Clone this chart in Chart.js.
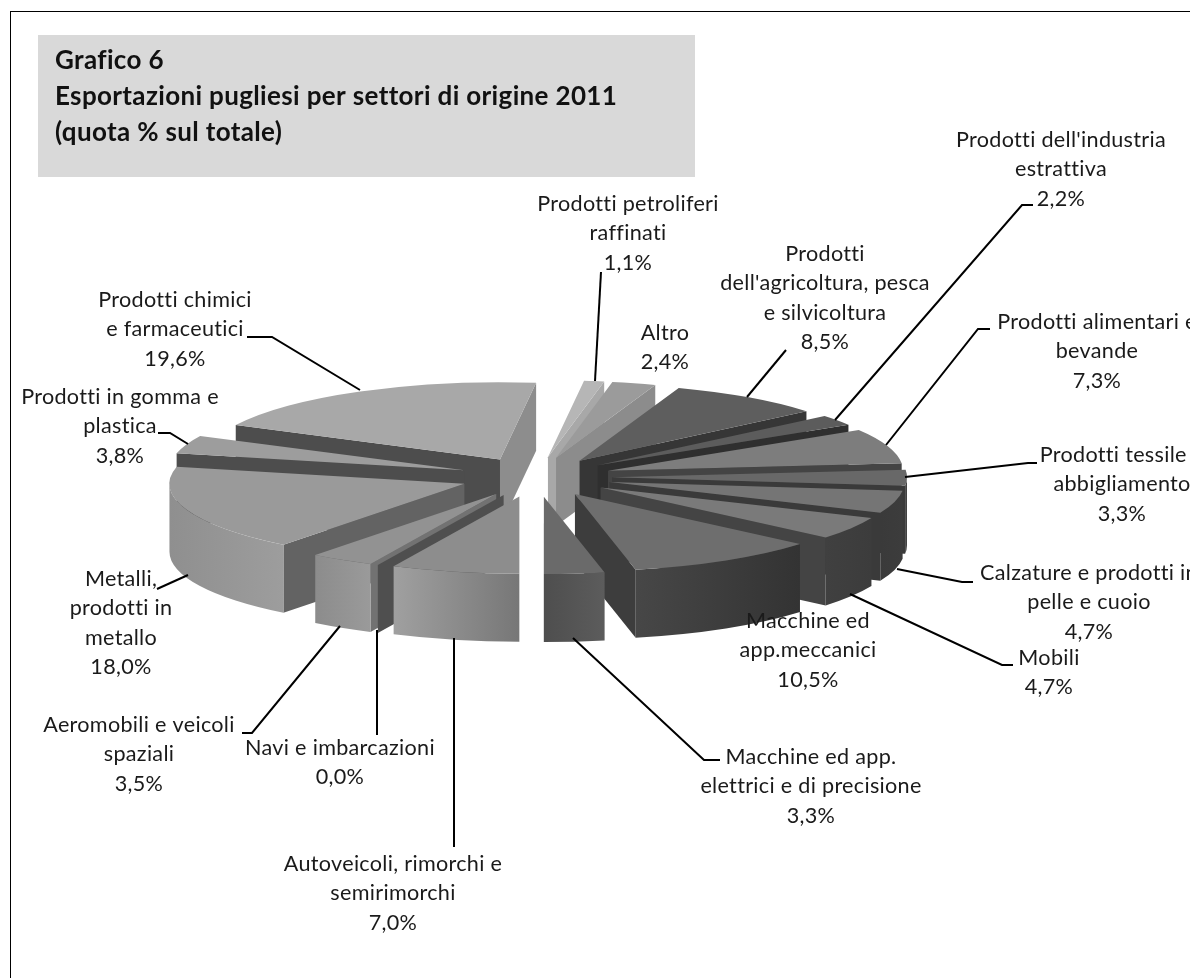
<!DOCTYPE html>
<html lang="it">
<head>
<meta charset="utf-8">
<title>Grafico 6</title>
<script src="https://cdn.jsdelivr.net/npm/chart.js@4"></script>
<style>
    html, body { margin: 0; padding: 0; background: #fff; overflow: hidden; }
    canvas { display: block; }
</style>
</head>
<body>
<canvas id="pie" width="1190" height="978"></canvas>
<script>
    const sectors = [
        'Altro', "Prodotti dell'agricoltura, pesca e silvicoltura", "Prodotti dell'industria estrattiva",
        'Prodotti alimentari e bevande', 'Prodotti tessile e abbigliamento', 'Calzature e prodotti in pelle e cuoio',
        'Mobili', 'Macchine ed app.meccanici', 'Macchine ed app. elettrici e di precisione',
        'Autoveicoli, rimorchi e semirimorchi', 'Navi e imbarcazioni', 'Aeromobili e veicoli spaziali',
        'Metalli, prodotti in metallo', 'Prodotti in gomma e plastica', 'Prodotti chimici e farmaceutici',
        'Prodotti petroliferi raffinati'
    ];
    const shares = [2.4, 8.5, 2.2, 7.3, 3.3, 4.7, 4.7, 10.5, 3.3, 7.0, 0.0, 3.5, 18.0, 3.8, 19.6, 1.1];

    // greys per slice: top face, two radial walls, outer rim left and right
    const topColors = ['#9b9b9b', '#5e5e5e', '#5c5c5c', '#7d7d7d', '#686868', '#757575', '#7a7a7a', '#6e6e6e',
        '#6a6a6a', '#8d8d8d', '#8d8d8d', '#929292', '#9a9a9a', '#9d9d9d', '#a8a8a8', '#b6b6b6'];
    const startWalls = ['#8c8c8c', '#363636', '#2f2f2f', '#444444', '#3a3a3a', '#3a3a3a', '#444444', '#3d3d3d',
        '#505050', '#707070', '#4f4f4f', '#727272', '#636363', '#4d4d4d', '#4d4d4d', '#a8a8a8'];
    const endWalls = ['#8c8c8c', '#363636', '#2f2f2f', '#444444', '#3a3a3a', '#3a3a3a', '#444444', '#3d3d3d',
        '#505050', '#707070', '#4f4f4f', '#727272', '#636363', '#4d4d4d', '#8d8d8d', '#a8a8a8'];
    const rimLeft = ['#888888', '#444444', '#444444', '#444444', '#3c3c3c', '#3a3a3a', '#404040', '#474747',
        '#4e4e4e', '#a0a0a0', '#707070', '#8c8c8c', '#8f8f8f', '#909090', '#909090', '#909090'];
    const rimRight = ['#888888', '#444444', '#444444', '#444444', '#444444', '#3c3c3c', '#3c3c3c', '#333333',
        '#5c5c5c', '#777777', '#707070', '#9a9a9a', '#9d9d9d', '#909090', '#909090', '#909090'];

    const titleLines = ['Grafico 6', 'Esportazioni pugliesi per settori di origine 2011', '(quota % sul totale)'];

    const labelLines = [
        ['Altro', '2,4%'],
        ['Prodotti', "dell'agricoltura, pesca", 'e silvicoltura', '8,5%'],
        ["Prodotti dell'industria", 'estrattiva', '2,2%'],
        ['Prodotti alimentari e', 'bevande', '7,3%'],
        ['Prodotti tessile e', 'abbigliamento', '3,3%'],
        ['Calzature e prodotti in', 'pelle e cuoio', '4,7%'],
        ['Mobili', '4,7%'],
        ['Macchine ed', 'app.meccanici', '10,5%'],
        ['Macchine ed app.', 'elettrici e di precisione', '3,3%'],
        ['Autoveicoli, rimorchi e', 'semirimorchi', '7,0%'],
        ['Navi e imbarcazioni', '0,0%'],
        ['Aeromobili e veicoli', 'spaziali', '3,5%'],
        ['Metalli,', 'prodotti in', 'metallo', '18,0%'],
        ['Prodotti in gomma e', 'plastica', '3,8%'],
        ['Prodotti chimici', 'e farmaceutici', '19,6%'],
        ['Prodotti petroliferi', 'raffinati', '1,1%']
    ];
    // centre x and y of the first line of each label
    const labelAnchors = [[665, 333], [825, 254], [1061, 140], [1097, 322], [1122, 455], [1089, 573], [1049, 658],
        [808, 621], [811, 757], [393, 864], [340, 748], [139, 725], [121, 579], [120, 397], [175, 300], [628, 204]];

    const leaders = [
        [[601, 272], [595, 381]],
        [[786, 350], [747, 397]],
        [[1033, 205], [1022, 205], [835, 420]],
        [[990, 329], [978, 329], [886, 445]],
        [[1037, 463], [1028, 463], [905, 477]],
        [[973, 582], [962, 582], [897, 569]],
        [[1013, 665], [1002, 665], [850, 594]],
        [[573, 638], [704, 760], [720, 760]],
        [[454, 638], [454, 847]],
        [[377, 630], [377, 735]],
        [[340, 626], [252, 733], [242, 733]],
        [[188, 575], [157, 589]],
        [[188, 444], [170, 433], [158, 433]],
        [[360, 390], [272, 337], [247, 337]]
    ];

    const tilt = 0.262;      // vertical squash of the pie disc
    const depth = 68;        // height of the extruded side
    const explode = 76;      // distance of each slice from the centre

    const TWO_PI = Math.PI * 2;

    const polygon = (ctx, pts, fill) => {
        ctx.beginPath();
        pts.forEach((p, i) => (i ? ctx.lineTo(p[0], p[1]) : ctx.moveTo(p[0], p[1])));
        ctx.closePath();
        ctx.fillStyle = fill;
        ctx.fill();
    };

    // radial wall between the slice tip and its outer corner at the given angle
    const drawWall = (ctx, tipX, tipY, radius, angle, fill) => {
        const cornerX = tipX + Math.cos(angle) * radius;
        const cornerY = tipY + Math.sin(angle) * radius * tilt;
        polygon(ctx, [[tipX, tipY], [cornerX, cornerY], [cornerX, cornerY + depth], [tipX, tipY + depth]], fill);
    };

    // front part of the cylinder side, only where the arc faces the viewer
    const drawRim = (ctx, tipX, tipY, radius, start, end, index) => {
        for (let k = -1; k <= 1; k++) {
            const from = Math.max(start, k * TWO_PI);
            const to = Math.min(end, k * TWO_PI + Math.PI);
            if (to <= from) continue;
            const xa = tipX + Math.cos(from) * radius;
            const xb = tipX + Math.cos(to) * radius;
            const grad = ctx.createLinearGradient(Math.min(xa, xb), 0, Math.max(xa, xb), 0);
            grad.addColorStop(0, rimLeft[index]);
            grad.addColorStop(1, rimRight[index]);
            ctx.beginPath();
            ctx.ellipse(tipX, tipY, radius, radius * tilt, 0, from, to);
            ctx.ellipse(tipX, tipY + depth, radius, radius * tilt, 0, to, from, true);
            ctx.closePath();
            ctx.fillStyle = grad;
            ctx.fill();
        }
    };

    const solidPie = {
        id: 'solidPie',
        beforeDatasetsDraw(chart) {
            const ctx = chart.ctx;
            const arcs = chart.getDatasetMeta(0).data;
            const mid = (arc) => (arc.startAngle + arc.endAngle) / 2;

            // back slices first, front slices last
            const order = arcs.map((arc, i) => i).sort((a, b) => Math.sin(mid(arcs[a])) - Math.sin(mid(arcs[b])));

            order.forEach((i) => {
                const arc = arcs[i];
                const dx = Math.cos(mid(arc)) * explode;
                const dy = Math.sin(mid(arc)) * explode * tilt;
                const tipX = arc.x + dx;
                const tipY = arc.y + dy;

                if (Math.cos(arc.startAngle) < -1e-6) {
                    drawWall(ctx, tipX, tipY, arc.outerRadius, arc.startAngle, startWalls[i]);
                }
                if (Math.cos(arc.endAngle) > 1e-6) {
                    drawWall(ctx, tipX, tipY, arc.outerRadius, arc.endAngle, endWalls[i]);
                }
                drawRim(ctx, tipX, tipY, arc.outerRadius, arc.startAngle, arc.endAngle, i);

                ctx.save();
                ctx.translate(tipX, tipY);
                ctx.scale(1, tilt);
                ctx.translate(-arc.x, -arc.y);
                arc.draw(ctx);
                ctx.restore();
            });
            return false;
        },
        beforeDraw(chart) {
            const ctx = chart.ctx;
            ctx.save();
            ctx.fillStyle = '#000';
            ctx.fillRect(10, 11, 1180, 1);
            ctx.fillRect(10, 11, 1, 967);
            ctx.fillStyle = '#d9d9d9';
            ctx.fillRect(38, 35, 657, 142);
            ctx.fillStyle = '#111';
            ctx.font = 'bold 26px Lato';
            ctx.letterSpacing = '0.35px';
            ctx.textBaseline = 'middle';
            titleLines.forEach((line, i) => ctx.fillText(line, 55, 61 + i * 36));
            ctx.restore();
        },
        afterDraw(chart) {
            const ctx = chart.ctx;
            ctx.save();
            ctx.strokeStyle = '#000';
            ctx.lineWidth = 2;
            leaders.forEach((line) => {
                ctx.beginPath();
                line.forEach((p, i) => (i ? ctx.lineTo(p[0], p[1]) : ctx.moveTo(p[0], p[1])));
                ctx.stroke();
            });
            ctx.fillStyle = '#1a1a1a';
            ctx.font = '21.6px Lato';
            ctx.letterSpacing = '0.3px';
            ctx.textAlign = 'center';
            ctx.textBaseline = 'middle';
            labelLines.forEach((lines, i) => {
                lines.forEach((text, j) => {
                    ctx.fillText(text, labelAnchors[i][0], labelAnchors[i][1] + j * 29.4);
                });
            });
            ctx.restore();
        }
    };

    new Chart(document.getElementById('pie'), {
        type: 'pie',
        data: {
            labels: sectors,
            datasets: [{
                data: shares,
                backgroundColor: topColors,
                borderWidth: 0,
                radius: 295
            }]
        },
        options: {
            responsive: false,
            animation: false,
            rotation: 11,
            events: [],
            layout: { padding: { left: 0, right: 118, top: 0, bottom: 24 } },
            plugins: { legend: { display: false }, tooltip: { enabled: false } }
        },
        plugins: [solidPie]
    });
</script>
</body>
</html>
